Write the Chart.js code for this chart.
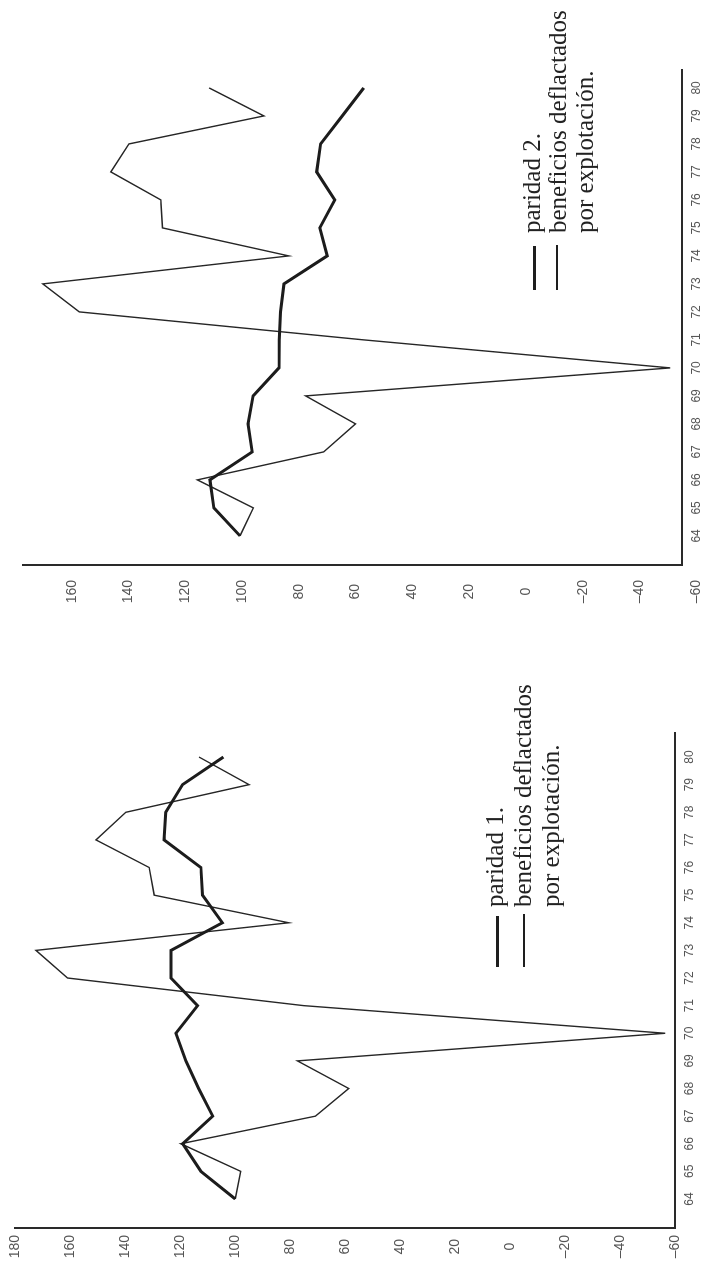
<!DOCTYPE html>
<html>
<head>
<meta charset="utf-8">
<script src="https://cdn.jsdelivr.net/npm/chart.js@4/dist/chart.umd.min.js"></script>
<style>
  html, body { margin:0; padding:0; background:#fff; overflow:hidden; width:717px; height:1268px; }
  #land { position:absolute; left:0; top:0; width:1268px; height:717px;
          transform-origin:0 0; transform: translateY(1268px) rotate(-90deg); background:#fff; }
  canvas { position:absolute; top:0; }
  .lg { position:absolute; font-family:"Liberation Serif","Times New Roman",serif; font-size:25px;
        line-height:27px; color:#222; white-space:nowrap; }
  .sw { position:absolute; background:#1e1e1e; }
</style>
</head>
<body>
<div id="land">
  <canvas id="c1" width="560" height="717" style="left:0"></canvas>
  <canvas id="c2" width="628" height="717" style="left:640px"></canvas>
</div>
<script>
// ---- data ----
const years = [64,65,66,67,68,69,70,71,72,73,74,75,76,77,78,79,80];
const valueTicks1 = [-60,-40,-20,0,20,40,60,80,100,120,140,160,180];
const valueTicks2 = [-60,-40,-20,0,20,40,60,80,100,120,140,160];

// Chart 1
const paridad1    = [100, 112.5, 119.1, 108.2, 113.3, 118.0, 121.6, 113.7, 123.4, 123.4, 104.7, 111.9, 112.5, 125.9, 125.3, 119.2, 104.3];
const beneficios1 = [100, 98.0, 119.8, 70.8, 58.7, 77.4, -56.4, 75.1, 161.0, 172.5, 80.5, 129.5, 131.3, 150.7, 139.8, 95.0, 113.2];
// Chart 2
const paridad2    = [100.7, 109.9, 111.3, 96.4, 97.9, 96.1, 87.0, 86.9, 86.4, 85.2, 70.0, 72.6, 67.3, 73.7, 72.3, 64.7, 57.1];
const beneficios2 = [100.7, 96.0, 115.7, 71.2, 60.0, 77.6, -50.8, 57.0, 157.3, 170.2, 83.5, 128.0, 128.6, 146.2, 139.8, 92.3, 111.6];

const legend1 = ['paridad 1.', 'beneficios deflactados', 'por explotación.'];
const legend2 = ['paridad 2.', 'beneficios deflactados', 'por explotación.'];

// ---- helpers ----
const pts = arr => years.map((y, i) => ({ x: y, y: arr[i] }));
const dash = v => v < 0 ? '\u2013' + Math.abs(v) : String(v);

function makeChart(id, cfg) {
  return new Chart(document.getElementById(id), {
    type: 'line',
    data: {
      datasets: [
        { label: cfg.labels[0], data: pts(cfg.thick), borderColor: '#1c1c1c', borderWidth: 3,
          pointRadius: 0, tension: 0, fill: false },
        { label: cfg.labels[1] + ' ' + cfg.labels[2], data: pts(cfg.thin), borderColor: '#262626', borderWidth: 1.4,
          pointRadius: 0, tension: 0, fill: false }
      ]
    },
    options: {
      responsive: false,
      animation: false,
      events: [],
      layout: { padding: { top: cfg.padTop, right: cfg.padRight, left: 0, bottom: 0 } },
      plugins: { legend: { display: false }, tooltip: { enabled: false } },
      scales: {
        x: {
          type: 'linear', min: cfg.xmin, max: cfg.xmax,
          afterBuildTicks: s => { s.ticks = years.map(v => ({ value: v })); },
          afterFit: s => { s.height = cfg.xh; },
          grid: { display: false, drawTicks: false },
          border: { display: true, color: '#2a2a2a', width: 2 },
          ticks: { autoSkip: false, maxRotation: 0, padding: 7, color: '#555',
                   font: { family: 'Liberation Sans', size: 12 }, callback: v => String(v) }
        },
        y: {
          type: 'linear', min: cfg.ymin, max: cfg.ymax,
          afterBuildTicks: s => { s.ticks = cfg.vticks.map(v => ({ value: v })); },
          afterFit: s => { s.width = cfg.yw; },
          grid: { display: false, drawTicks: false },
          border: { display: true, color: '#2a2a2a', width: 2 },
          ticks: { padding: cfg.ypad, crossAlign: 'center', color: '#555',
                   font: { family: 'Liberation Sans', size: 14 }, callback: v => dash(v) }
        }
      }
    }
  });
}

makeChart('c1', { thick: paridad1, thin: beneficios1, labels: legend1, vticks: valueTicks1,
  xmin: 62.95, xmax: 80.87, ymin: -60, ymax: 180, xh: 42, yw: 40, ypad: 7, padRight: 25, padTop: 14 });
makeChart('c2', { thick: paridad2, thin: beneficios2, labels: legend2, vticks: valueTicks2,
  xmin: 62.96, xmax: 80.64, ymin: -55, ymax: 177, xh: 35, yw: 63, ypad: 15, padRight: 70, padTop: 22 });

// ---- legends (HTML text, rotated with the page) ----
const land = document.getElementById('land');
function addLegend(labels, sw, textX, centers) {
  sw.forEach(s => {
    const d = document.createElement('div');
    d.className = 'sw';
    d.style.left = s.x + 'px'; d.style.width = s.w + 'px';
    d.style.top = (s.y - s.h / 2) + 'px'; d.style.height = s.h + 'px';
    land.appendChild(d);
  });
  labels.forEach((t, i) => {
    const d = document.createElement('div');
    d.className = 'lg';
    d.textContent = t;
    d.style.left = textX + 'px';
    d.style.top = (centers[i] - 16) + 'px';
    land.appendChild(d);
  });
}
addLegend(legend1, [{ x: 301, w: 51, y: 497, h: 3 }, { x: 301, w: 53, y: 524, h: 1.5 }], 361, [497, 525, 553]);
addLegend(legend2, [{ x: 978, w: 44, y: 534, h: 3 }, { x: 978, w: 45, y: 557, h: 1.5 }], 1035, [534, 560, 587]);
</script>
</body>
</html>
